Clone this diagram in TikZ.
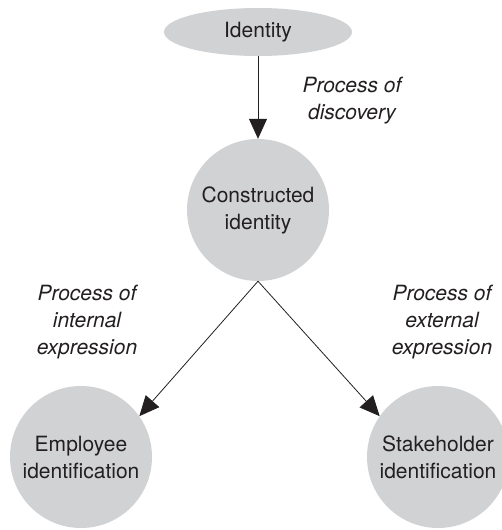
\documentclass[tikz,border=0pt]{standalone}
\usepackage{fontspec}
\setmainfont{TeX Gyre Heros}
\usetikzlibrary{arrows.meta,shapes.geometric}
\definecolor{bubble}{RGB}{209,210,212}
\definecolor{ink}{RGB}{35,31,32}
\begin{document}
\begin{tikzpicture}[x=1pt,y=-1pt,
  txt/.style={font=\fontsize{21}{27}\selectfont, text=ink, align=center},
  bub/.style={circle, fill=bubble, minimum size=142pt, inner sep=0pt, txt},
  lab/.style={txt, font=\fontsize{21}{27}\selectfont\itshape},
  conn/.style={draw=ink, line width=0.8pt, -{Triangle[width=18pt,length=20pt]}}]
\useasboundingbox (0,0) rectangle (501,530);
\node[ellipse, fill=bubble, minimum width=188pt, minimum height=48pt, inner sep=0pt, txt] (i) at (258,32) {Identity};
\node[bub] (c) at (258,210) {Constructed\\identity};
\node[bub] (e) at (81,457) {Employee\\identification};
\node[bub] (s) at (438,457) {Stakeholder\\identification};
\node[lab] (l1) at (352,101) {Process of\\discovery};
\node[lab] (l2) at (87,322) {Process of\\internal\\expression};
\node[lab] (l3) at (442,322) {Process of\\external\\expression};
\draw[conn] (i.south) -- (c.north);
\draw[conn] (c.south) -- (e.35);
\draw[conn] (c.south) -- (s.145);
\end{tikzpicture}
\end{document}
